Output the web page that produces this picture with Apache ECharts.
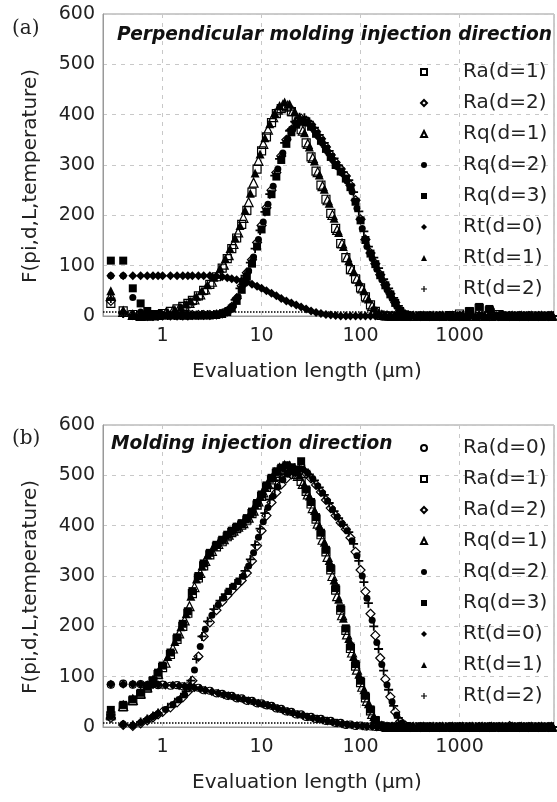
<!DOCTYPE html>
<html><head><meta charset="utf-8">
<script src="https://cdn.jsdelivr.net/npm/echarts@6/dist/echarts.min.js"></script>
<style>html,body{margin:0;padding:0;background:#fff}#c{width:557px;height:802px}</style>
</head><body><div id="c"></div>
<script>
// Evaluation length (µm) sample positions; three staggered sample sets
const xsA = [0.3,0.4,0.5,0.6,0.7,0.8,0.9,1,1.2,1.4,
 1.6,1.8,2,2.3,2.6,3,3.5,4,4.5,5,
 5.6,6.3,7.1,8,9,10,11.2,12.6,14.1,15.8,
 17.8,20,22.4,25.1,28.2,31.6,35.5,39.8,44.7,50,
 56,63,71,79,89,100,112,126,141,158,
 178,200,224,251,282,316,400,500,630,800,
 1000,1260,1580,2000,2500,3200,4000,5000,6300,8000];
const xsB = [0.3,0.4,0.5,0.6,0.7,0.8,0.9,1.07,1.27,1.47,
 1.67,1.87,2.1,2.4,2.7,3.15,3.65,4.15,4.65,5.2,
 5.8,6.55,7.4,8.3,9.3,10.4,11.6,13.1,14.6,16.4,
 18.4,20.7,23.3,26.1,29.3,32.9,36.9,41.3,46.4,52,
 58,65,73,82,92,104,116,131,146,164,
 185,208,232,261,293,340,430,540,670,850,
 1070,1340,1690,2100,2700,3400,4200,5300,6700,8500];
const xsC = [0.3,0.4,0.5,0.6,0.7,0.8,0.9,1.13,1.33,1.53,
 1.73,1.93,2.2,2.5,2.85,3.3,3.8,4.3,4.8,5.4,
 6.05,6.8,7.7,8.6,9.65,10.8,12.1,13.6,15.2,17.1,
 19.2,21.6,24.2,27.1,30.4,34.2,38.3,43,48.2,54,
 60,67,76,85,96,108,120,136,152,171,
 192,216,241,271,302,370,460,580,720,920,
 1150,1450,1800,2250,2850,3600,4500,5700,7100,8800];
const threshold = 8;

// ---- Panel (a): perpendicular molding injection direction ----
const aRa1 = [25,10,3,1,1,2,3,5,9,14,
 19,25,31,40,51,63,78,95,114,134,
 155,182,210,246,292,328,356,384,402,412,
 415,406,390,370,344,316,288,260,232,204,
 174,144,116,92,74,56,38,22,9,2,
 0,0,0,0,0,0,0,0,0,1,
 4,8,15,10,3,0,0,0,0,0];
const aRa2 = [30,6,2,1,0,0,1,1,1,1,
 1,1,2,2,2,2,3,5,9,18,
 35,60,86,112,146,180,215,250,285,318,
 350,370,385,392,388,380,366,352,336,320,
 305,292,278,260,230,192,152,125,104,82,
 62,44,27,11,3,0,0,0,0,0,
 0,0,0,0,0,0,0,0,0,0];
const aRq1 = [40,8,2,0,1,1,2,5,10,15,
 20,26,33,43,53,68,84,102,121,143,
 166,195,226,265,308,342,370,395,410,419,
 418,407,391,368,342,314,286,258,230,201,
 171,144,117,93,74,55,37,20,8,2,
 1,0,0,0,0,0,0,0,0,0,
 0,0,0,0,0,0,0,0,0,0];
const aRq2 = [80,80,37,8,2,1,0,0,1,1,
 1,1,1,1,2,2,3,5,10,20,
 38,63,90,117,152,187,222,258,292,324,
 352,371,384,388,383,373,358,343,327,311,
 297,284,268,247,214,174,138,114,93,72,
 52,35,19,6,1,0,0,0,0,0,
 0,0,0,12,4,0,0,0,0,0];
const aRq3 = [110,110,55,25,10,4,2,1,1,1,
 1,1,1,1,1,1,2,4,8,15,
 30,52,78,104,138,172,207,242,277,310,
 342,365,380,388,385,376,362,348,332,316,
 300,287,273,256,227,190,151,124,103,81,
 61,43,26,10,3,1,0,0,0,0,
 0,10,18,14,0,0,0,0,0,0];
const aRt0 = [80,80,80,80,80,80,80,80,80,80,
 80,80,80,80,80,80,79,78,76,74,
 72,70,67,63,59,55,50,45,40,35,
 30,26,22,18,14,10,7,5,3,2,
 1,0,0,0,0,0,0,0,0,0,
 0,0,0,0,0,0,0,0,0,0,
 0,0,0,0,0,0,0,0,0,0];
const aRt1 = [50,12,4,1,0,1,2,8,13,18,
 24,30,39,50,62,77,95,114,134,155,
 180,210,244,284,322,354,382,404,418,425,
 421,407,388,364,336,308,280,252,224,194,
 166,138,110,88,68,50,34,16,6,2,
 0,0,0,0,0,0,0,0,0,0,
 0,0,0,0,0,0,0,0,0,0];
const aRt2 = [35,5,2,1,1,0,0,1,1,1,
 2,2,2,3,3,3,5,9,16,32,
 55,80,106,134,170,207,242,279,312,344,
 368,386,395,394,386,374,360,344,328,313,
 299,286,270,246,208,168,138,116,95,73,
 55,36,20,7,2,0,0,0,0,0,
 0,0,0,0,0,0,0,0,0,0];

// ---- Panel (b): molding injection direction ----
const bRa0 = [84,86,84,85,83,85,83,84,82,83,
 81,81,78,78,73,72,67,66,62,62,
 57,57,52,52,47,47,43,42,37,36,
 31,30,25,25,20,20,16,16,12,12,
 8,8,4,5,2,3,1,1,0,0,
 0,0,0,0,0,0,0,0,0,0,
 0,0,0,0,0,0,0,0,0,0];
const bRa1 = [22,40,52,65,77,90,104,118,144,174,
 200,226,265,296,320,342,358,368,378,386,
 394,401,411,424,441,458,476,491,504,511,
 516,512,502,488,468,443,413,382,348,312,
 272,232,192,156,121,88,58,32,12,2,
 0,0,0,0,0,0,0,0,0,0,
 0,0,0,0,0,0,0,0,0,0];
const bRa2 = [18,4,2,7,13,19,25,30,39,49,
 59,70,92,140,180,208,232,249,261,271,
 281,291,306,330,360,390,420,446,466,482,
 494,502,508,510,504,494,481,467,451,435,
 420,406,393,376,348,312,269,225,182,137,
 95,60,30,11,3,0,0,0,0,0,
 0,0,0,0,0,2,0,0,0,0];
const bRq1 = [25,42,54,67,79,92,106,128,156,186,
 212,240,278,306,330,350,364,373,382,390,
 398,405,416,430,448,466,483,497,508,514,
 517,511,499,483,462,435,404,372,338,300,
 260,222,184,148,114,80,52,26,9,2,
 0,0,0,0,0,0,0,0,0,0,
 0,0,0,0,0,0,0,0,0,0];
const bRq2 = [22,6,3,9,15,21,27,35,44,54,
 64,80,113,160,194,222,243,257,269,279,
 289,300,320,346,377,408,436,459,477,491,
 502,509,513,512,504,493,479,465,449,432,
 417,404,390,370,340,300,256,212,168,124,
 84,50,24,8,2,0,0,0,0,0,
 0,0,0,0,0,0,0,0,0,0];
const bRq3 = [34,44,55,68,80,93,108,122,148,178,
 205,230,270,300,325,346,362,372,382,390,
 398,405,415,428,445,462,480,495,508,515,
 520,516,506,528,472,447,417,386,352,316,
 276,236,196,160,125,92,62,35,14,3,
 0,0,0,0,0,0,0,0,0,0,
 0,0,0,0,0,0,0,0,0,0];
const bRt0 = [85,85,85,85,84,84,84,83,83,82,
 81,80,78,76,73,70,67,64,62,60,
 57,55,52,50,47,45,43,40,37,34,
 31,28,25,23,20,18,16,14,12,10,
 8,6,5,4,3,2,1,1,0,0,
 0,0,0,0,0,0,0,0,0,0,
 0,0,0,0,0,0,0,0,0,0];
const bRt1 = [28,45,57,70,82,95,110,140,170,199,
 225,260,294,320,342,359,371,381,390,398,
 405,414,426,442,460,478,494,508,517,522,
 521,512,500,482,459,430,400,367,331,292,
 254,216,176,140,105,74,46,21,7,1,
 0,0,0,0,0,0,0,0,0,0,
 0,0,0,0,0,0,0,0,0,0];
const bRt2 = [24,5,4,10,16,22,28,39,49,59,
 71,92,135,180,210,234,251,264,275,285,
 295,310,333,362,394,425,452,474,490,502,
 510,515,517,512,502,490,476,461,445,429,
 415,402,387,364,330,288,246,200,155,112,
 74,42,18,6,1,0,0,0,0,0,
 0,0,0,0,0,0,0,0,0,0];

const yTicks = [0,100,200,300,400,500,600];
const xTickLabels = ['1','10','100','1000'];

// [legend name, values, sample set]
const aSeries = [['Ra(d=1)',aRa1,xsA],['Ra(d=2)',aRa2,xsA],['Rq(d=1)',aRq1,xsB],['Rq(d=2)',aRq2,xsB],
  ['Rq(d=3)',aRq3,xsA],['Rt(d=0)',aRt0,xsA],['Rt(d=1)',aRt1,xsC],['Rt(d=2)',aRt2,xsC]];
const bSeries = [['Ra(d=0)',bRa0,xsA],['Ra(d=1)',bRa1,xsA],['Ra(d=2)',bRa2,xsA],['Rq(d=1)',bRq1,xsB],
  ['Rq(d=2)',bRq2,xsB],['Rq(d=3)',bRq3,xsA],['Rt(d=0)',bRt0,xsB],['Rt(d=1)',bRt1,xsC],['Rt(d=2)',bRt2,xsC]];

const INK = '#000';
const PLUS = 'path://M4,0H6V4H10V6H6V10H4V6H0V4H4Z';
const styleOf = {
  'Ra(d=0)': {symbol:'circle', size:7, open:true},
  'Ra(d=1)': {symbol:'rect', size:8, open:true},
  'Ra(d=2)': {symbol:'diamond', size:9, open:true},
  'Rq(d=1)': {symbol:'triangle', size:9, open:true},
  'Rq(d=2)': {symbol:'circle', size:7, open:false},
  'Rq(d=3)': {symbol:'rect', size:8, open:false},
  'Rt(d=0)': {symbol:'diamond', size:9, open:false},
  'Rt(d=1)': {symbol:'triangle', size:9, open:false},
  'Rt(d=2)': {symbol:PLUS, size:9, open:false}
};
function mkSeries(name, vals, xs, gi, first) {
  const st = styleOf[name];
  const s = {
    type:'scatter', name, xAxisIndex:gi, yAxisIndex:gi,
    symbol: st.symbol, symbolSize: st.size,
    itemStyle: st.open ? {color:'rgba(0,0,0,0)', borderColor:INK, borderWidth:1.2, opacity:1}
                       : {color:INK, borderWidth:0, opacity:1},
    emphasis:{disabled:true},
    data: xs.map((x,i)=>[x, vals[i]])
  };
  if (first) {
    s.markLine = {silent:true, symbol:'none', label:{show:false},
      lineStyle:{type:'dotted', color:'#000', width:1.5},
      data:[{yAxis: threshold}]};
  }
  return s;
}
const series = [];
aSeries.forEach((d,i)=>series.push(mkSeries(d[0], d[1], d[2], 0, i===0)));
bSeries.forEach((d,i)=>series.push(mkSeries(d[0], d[1], d[2], 1, i===0)));

const FONT = 'DejaVu Sans';
function xAx(gi){
  return {type:'log', gridIndex:gi, min:0.25, max:9000, logBase:10,
    name:'Evaluation length (\u03bcm)', nameLocation:'middle', nameGap:46,
    nameTextStyle:{fontFamily:FONT, fontSize:20, color:'#222', padding:[0,43,0,0]},
    axisLine:{show:true, lineStyle:{color:'#999'}}, axisTick:{show:false},
    axisLabel:{fontFamily:FONT, fontSize:19, color:'#222', margin:11,
      formatter:(v)=>{const l=Math.log10(v); const r=Math.round(l);
        if (Math.abs(l-r)<1e-6 && r>=0) { const t=String(Math.round(v)); return xTickLabels.includes(t)?t:''; } return '';}},
    splitLine:{show:true, lineStyle:{color:'#c8c8c8', type:[4,5]}}};
}
function yAx(gi){
  return {type:'value', gridIndex:gi, min:yTicks[0], max:yTicks[yTicks.length-1], interval:100,
    name:'F(pi,d,L,temperature)', nameLocation:'middle', nameGap:62,
    nameTextStyle:{fontFamily:FONT, fontSize:20, color:'#222', padding:[0,22,0,0]},
    axisLine:{show:true, lineStyle:{color:'#999'}}, axisTick:{show:false},
    axisLabel:{fontFamily:FONT, fontSize:19, color:'#222', margin:8},
    splitLine:{show:true, lineStyle:{color:'#c8c8c8', type:[4,5]}}};
}
function legendOf(names, top){
  return {data:names, orient:'vertical', left:415, top, itemWidth:6, itemHeight:6, itemGap:11,
    selectedMode:false,
    textStyle:{fontFamily:FONT, fontSize:20, color:'#222', lineHeight:20, padding:[0,0,0,31]}};
}
const chart = echarts.init(document.getElementById('c'), null, {renderer:'canvas'});
chart.setOption({
  animation:false, backgroundColor:'#fff',
  title:[
    {text:'(a)', left:7, top:14, textStyle:{fontFamily:'DejaVu Serif', fontSize:20, fontWeight:'normal', color:'#222'}},
    {text:'Perpendicular molding injection direction', left:112, top:21, textStyle:{fontFamily:FONT, fontSize:18.6, fontWeight:'bold', fontStyle:'italic', color:'#111'}},
    {text:'(b)', left:7, top:424, textStyle:{fontFamily:'DejaVu Serif', fontSize:20, fontWeight:'normal', color:'#222'}},
    {text:'Molding injection direction', left:106, top:430, textStyle:{fontFamily:FONT, fontSize:18.6, fontWeight:'bold', fontStyle:'italic', color:'#111'}}
  ],
  grid:[
    {left:103, width:453, top:14, height:302, show:true, borderColor:'#999', borderWidth:1, backgroundColor:'transparent'},
    {left:103, width:453, top:425, height:302, show:true, borderColor:'#999', borderWidth:1, backgroundColor:'transparent'}
  ],
  xAxis:[xAx(0), xAx(1)],
  yAxis:[yAx(0), yAx(1)],
  legend:[legendOf(aSeries.map(d=>d[0]), 57), legendOf(bSeries.map(d=>d[0]), 433)],
  series
});
</script></body></html>
